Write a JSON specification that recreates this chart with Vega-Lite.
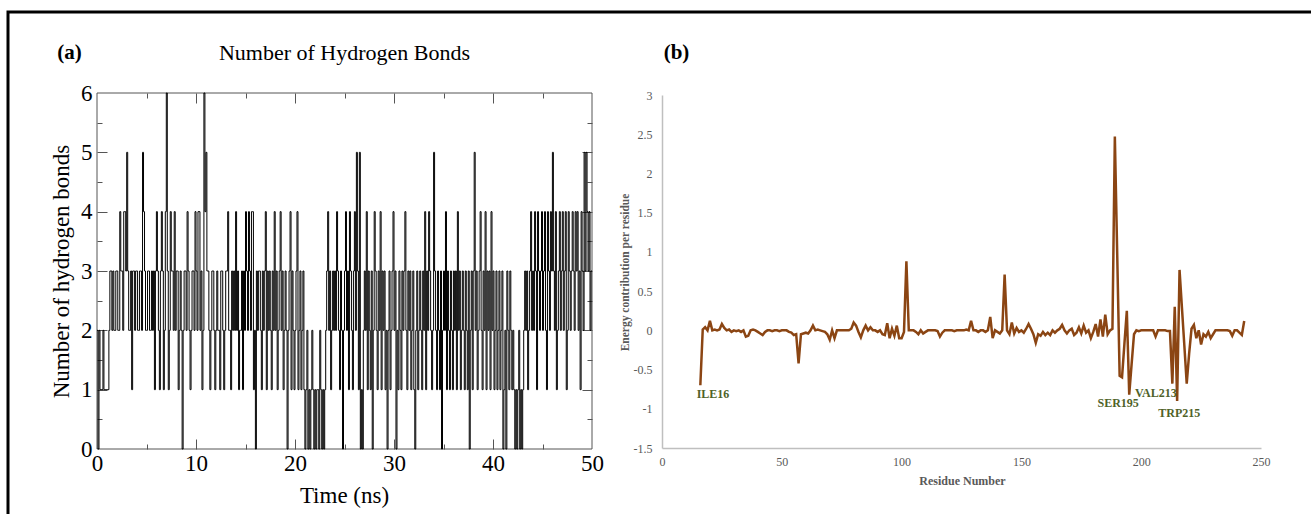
{
  "$schema": "https://vega.github.io/schema/vega-lite/v6.json",
  "width": 1311,
  "height": 514,
  "autosize": {"type": "none"},
  "padding": 0,
  "background": "white",
  "config": {"view": {"stroke": null}, "axis": {"grid": false, "labelOverlap": false, "labelFlush": false}},
  "datasets": {
    "hb": [
      {"t":0,"n":2},{"t":0.1,"n":0},{"t":0.2,"n":2},{"t":0.3,"n":1},{"t":0.4,"n":1},{"t":0.5,"n":1},{"t":0.6,"n":2},{"t":0.7,"n":1},{"t":0.8,"n":1},{"t":0.9,"n":1},
      {"t":1,"n":1},{"t":1.1,"n":1},{"t":1.2,"n":2},{"t":1.3,"n":3},{"t":1.4,"n":3},{"t":1.5,"n":2},{"t":1.6,"n":3},{"t":1.7,"n":2},{"t":1.8,"n":2},{"t":1.9,"n":3},
      {"t":2,"n":3},{"t":2.1,"n":2},{"t":2.2,"n":2},{"t":2.3,"n":4},{"t":2.4,"n":3},{"t":2.5,"n":3},{"t":2.6,"n":2},{"t":2.7,"n":4},{"t":2.8,"n":4},{"t":2.9,"n":3},
      {"t":3,"n":5},{"t":3.1,"n":3},{"t":3.2,"n":2},{"t":3.3,"n":2},{"t":3.4,"n":3},{"t":3.5,"n":1},{"t":3.6,"n":3},{"t":3.7,"n":3},{"t":3.8,"n":2},{"t":3.9,"n":3},
      {"t":4,"n":3},{"t":4.1,"n":2},{"t":4.2,"n":2},{"t":4.3,"n":3},{"t":4.4,"n":3},{"t":4.5,"n":2},{"t":4.6,"n":5},{"t":4.7,"n":4},{"t":4.8,"n":3},{"t":4.9,"n":2},
      {"t":5,"n":2},{"t":5.1,"n":3},{"t":5.2,"n":3},{"t":5.3,"n":2},{"t":5.4,"n":2},{"t":5.5,"n":3},{"t":5.6,"n":2},{"t":5.7,"n":3},{"t":5.8,"n":1},{"t":5.9,"n":3},
      {"t":6,"n":4},{"t":6.1,"n":3},{"t":6.2,"n":2},{"t":6.3,"n":1},{"t":6.4,"n":3},{"t":6.5,"n":4},{"t":6.6,"n":3},{"t":6.7,"n":1},{"t":6.8,"n":2},{"t":6.9,"n":4},
      {"t":7,"n":6},{"t":7.1,"n":3},{"t":7.2,"n":1},{"t":7.3,"n":2},{"t":7.4,"n":4},{"t":7.5,"n":3},{"t":7.6,"n":3},{"t":7.7,"n":2},{"t":7.8,"n":4},{"t":7.9,"n":2},
      {"t":8,"n":3},{"t":8.1,"n":3},{"t":8.2,"n":1},{"t":8.3,"n":2},{"t":8.4,"n":3},{"t":8.5,"n":2},{"t":8.6,"n":0},{"t":8.7,"n":2},{"t":8.8,"n":3},{"t":8.9,"n":3},
      {"t":9,"n":2},{"t":9.1,"n":4},{"t":9.2,"n":3},{"t":9.3,"n":2},{"t":9.4,"n":1},{"t":9.5,"n":2},{"t":9.6,"n":3},{"t":9.7,"n":3},{"t":9.8,"n":2},{"t":9.9,"n":4},
      {"t":10,"n":3},{"t":10.1,"n":2},{"t":10.2,"n":4},{"t":10.3,"n":4},{"t":10.4,"n":2},{"t":10.5,"n":3},{"t":10.6,"n":1},{"t":10.7,"n":2},{"t":10.8,"n":6},{"t":10.9,"n":4},
      {"t":11,"n":5},{"t":11.1,"n":3},{"t":11.2,"n":3},{"t":11.3,"n":2},{"t":11.4,"n":1},{"t":11.5,"n":2},{"t":11.6,"n":3},{"t":11.7,"n":3},{"t":11.8,"n":2},{"t":11.9,"n":1},
      {"t":12,"n":2},{"t":12.1,"n":3},{"t":12.2,"n":2},{"t":12.3,"n":2},{"t":12.4,"n":1},{"t":12.5,"n":3},{"t":12.6,"n":3},{"t":12.7,"n":2},{"t":12.8,"n":1},{"t":12.9,"n":2},
      {"t":13,"n":3},{"t":13.1,"n":3},{"t":13.2,"n":4},{"t":13.3,"n":2},{"t":13.4,"n":2},{"t":13.5,"n":1},{"t":13.6,"n":3},{"t":13.7,"n":2},{"t":13.8,"n":3},{"t":13.9,"n":2},
      {"t":14,"n":4},{"t":14.1,"n":2},{"t":14.2,"n":3},{"t":14.3,"n":1},{"t":14.4,"n":2},{"t":14.5,"n":2},{"t":14.6,"n":3},{"t":14.7,"n":1},{"t":14.8,"n":3},{"t":14.9,"n":2},
      {"t":15,"n":4},{"t":15.1,"n":3},{"t":15.2,"n":2},{"t":15.3,"n":4},{"t":15.4,"n":3},{"t":15.5,"n":2},{"t":15.6,"n":4},{"t":15.7,"n":4},{"t":15.8,"n":1},{"t":15.9,"n":2},
      {"t":16,"n":0},{"t":16.1,"n":3},{"t":16.2,"n":2},{"t":16.3,"n":3},{"t":16.4,"n":3},{"t":16.5,"n":2},{"t":16.6,"n":1},{"t":16.7,"n":3},{"t":16.8,"n":2},{"t":16.9,"n":3},
      {"t":17,"n":4},{"t":17.1,"n":1},{"t":17.2,"n":3},{"t":17.3,"n":2},{"t":17.4,"n":3},{"t":17.5,"n":2},{"t":17.6,"n":1},{"t":17.7,"n":3},{"t":17.8,"n":2},{"t":17.9,"n":4},
      {"t":18,"n":2},{"t":18.1,"n":3},{"t":18.2,"n":1},{"t":18.3,"n":2},{"t":18.4,"n":3},{"t":18.5,"n":4},{"t":18.6,"n":2},{"t":18.7,"n":3},{"t":18.8,"n":1},{"t":18.9,"n":2},
      {"t":19,"n":3},{"t":19.1,"n":2},{"t":19.2,"n":0},{"t":19.3,"n":2},{"t":19.4,"n":3},{"t":19.5,"n":4},{"t":19.6,"n":1},{"t":19.7,"n":3},{"t":19.8,"n":2},{"t":19.9,"n":1},
      {"t":20,"n":2},{"t":20.1,"n":3},{"t":20.2,"n":4},{"t":20.3,"n":1},{"t":20.4,"n":2},{"t":20.5,"n":3},{"t":20.6,"n":1},{"t":20.7,"n":2},{"t":20.8,"n":3},{"t":20.9,"n":1},
      {"t":21,"n":0},{"t":21.1,"n":1},{"t":21.2,"n":2},{"t":21.3,"n":0},{"t":21.4,"n":1},{"t":21.5,"n":0},{"t":21.6,"n":1},{"t":21.7,"n":2},{"t":21.8,"n":1},{"t":21.9,"n":0},
      {"t":22,"n":1},{"t":22.1,"n":0},{"t":22.2,"n":1},{"t":22.3,"n":1},{"t":22.4,"n":0},{"t":22.5,"n":2},{"t":22.6,"n":1},{"t":22.7,"n":0},{"t":22.8,"n":1},{"t":22.9,"n":0},
      {"t":23,"n":1},{"t":23.1,"n":2},{"t":23.2,"n":3},{"t":23.3,"n":4},{"t":23.4,"n":2},{"t":23.5,"n":3},{"t":23.6,"n":1},{"t":23.7,"n":2},{"t":23.8,"n":3},{"t":23.9,"n":2},
      {"t":24,"n":3},{"t":24.1,"n":2},{"t":24.2,"n":4},{"t":24.3,"n":3},{"t":24.4,"n":2},{"t":24.5,"n":1},{"t":24.6,"n":3},{"t":24.7,"n":2},{"t":24.8,"n":0},{"t":24.9,"n":2},
      {"t":25,"n":3},{"t":25.1,"n":4},{"t":25.2,"n":2},{"t":25.3,"n":3},{"t":25.4,"n":1},{"t":25.5,"n":4},{"t":25.6,"n":3},{"t":25.7,"n":2},{"t":25.8,"n":1},{"t":25.9,"n":3},
      {"t":26,"n":4},{"t":26.1,"n":2},{"t":26.2,"n":5},{"t":26.3,"n":3},{"t":26.4,"n":1},{"t":26.5,"n":5},{"t":26.6,"n":0},{"t":26.7,"n":1},{"t":26.8,"n":0},{"t":26.9,"n":2},
      {"t":27,"n":3},{"t":27.1,"n":2},{"t":27.2,"n":4},{"t":27.3,"n":1},{"t":27.4,"n":3},{"t":27.5,"n":2},{"t":27.6,"n":1},{"t":27.7,"n":3},{"t":27.8,"n":0},{"t":27.9,"n":2},
      {"t":28,"n":4},{"t":28.1,"n":3},{"t":28.2,"n":2},{"t":28.3,"n":1},{"t":28.4,"n":3},{"t":28.5,"n":2},{"t":28.6,"n":4},{"t":28.7,"n":1},{"t":28.8,"n":3},{"t":28.9,"n":2},
      {"t":29,"n":3},{"t":29.1,"n":1},{"t":29.2,"n":2},{"t":29.3,"n":0},{"t":29.4,"n":2},{"t":29.5,"n":3},{"t":29.6,"n":1},{"t":29.7,"n":2},{"t":29.8,"n":3},{"t":29.9,"n":4},
      {"t":30,"n":2},{"t":30.1,"n":3},{"t":30.2,"n":0},{"t":30.3,"n":2},{"t":30.4,"n":1},{"t":30.5,"n":3},{"t":30.6,"n":2},{"t":30.7,"n":1},{"t":30.8,"n":3},{"t":30.9,"n":2},
      {"t":31,"n":3},{"t":31.1,"n":4},{"t":31.2,"n":2},{"t":31.3,"n":1},{"t":31.4,"n":3},{"t":31.5,"n":2},{"t":31.6,"n":3},{"t":31.7,"n":1},{"t":31.8,"n":2},{"t":31.9,"n":3},
      {"t":32,"n":1},{"t":32.1,"n":0},{"t":32.2,"n":2},{"t":32.3,"n":3},{"t":32.4,"n":1},{"t":32.5,"n":2},{"t":32.6,"n":3},{"t":32.7,"n":2},{"t":32.8,"n":1},{"t":32.9,"n":3},
      {"t":33,"n":2},{"t":33.1,"n":4},{"t":33.2,"n":1},{"t":33.3,"n":3},{"t":33.4,"n":2},{"t":33.5,"n":4},{"t":33.6,"n":3},{"t":33.7,"n":2},{"t":33.8,"n":1},{"t":33.9,"n":2},
      {"t":34,"n":5},{"t":34.1,"n":3},{"t":34.2,"n":2},{"t":34.3,"n":1},{"t":34.4,"n":3},{"t":34.5,"n":2},{"t":34.6,"n":1},{"t":34.7,"n":3},{"t":34.8,"n":0},{"t":34.9,"n":2},
      {"t":35,"n":3},{"t":35.1,"n":2},{"t":35.2,"n":4},{"t":35.3,"n":1},{"t":35.4,"n":3},{"t":35.5,"n":2},{"t":35.6,"n":1},{"t":35.7,"n":3},{"t":35.8,"n":2},{"t":35.9,"n":1},
      {"t":36,"n":3},{"t":36.1,"n":2},{"t":36.2,"n":3},{"t":36.3,"n":1},{"t":36.4,"n":4},{"t":36.5,"n":2},{"t":36.6,"n":3},{"t":36.7,"n":1},{"t":36.8,"n":2},{"t":36.9,"n":3},
      {"t":37,"n":2},{"t":37.1,"n":1},{"t":37.2,"n":3},{"t":37.3,"n":2},{"t":37.4,"n":1},{"t":37.5,"n":3},{"t":37.6,"n":0},{"t":37.7,"n":2},{"t":37.8,"n":3},{"t":37.9,"n":1},
      {"t":38,"n":3},{"t":38.1,"n":5},{"t":38.2,"n":2},{"t":38.3,"n":3},{"t":38.4,"n":1},{"t":38.5,"n":2},{"t":38.6,"n":3},{"t":38.7,"n":4},{"t":38.8,"n":2},{"t":38.9,"n":1},
      {"t":39,"n":3},{"t":39.1,"n":2},{"t":39.2,"n":4},{"t":39.3,"n":1},{"t":39.4,"n":3},{"t":39.5,"n":2},{"t":39.6,"n":3},{"t":39.7,"n":1},{"t":39.8,"n":4},{"t":39.9,"n":2},
      {"t":40,"n":3},{"t":40.1,"n":1},{"t":40.2,"n":2},{"t":40.3,"n":3},{"t":40.4,"n":1},{"t":40.5,"n":2},{"t":40.6,"n":3},{"t":40.7,"n":1},{"t":40.8,"n":2},{"t":40.9,"n":3},
      {"t":41,"n":0},{"t":41.1,"n":1},{"t":41.2,"n":2},{"t":41.3,"n":0},{"t":41.4,"n":3},{"t":41.5,"n":2},{"t":41.6,"n":1},{"t":41.7,"n":3},{"t":41.8,"n":2},{"t":41.9,"n":1},
      {"t":42,"n":2},{"t":42.1,"n":1},{"t":42.2,"n":0},{"t":42.3,"n":1},{"t":42.4,"n":0},{"t":42.5,"n":1},{"t":42.6,"n":2},{"t":42.7,"n":0},{"t":42.8,"n":1},{"t":42.9,"n":0},
      {"t":43,"n":1},{"t":43.1,"n":2},{"t":43.2,"n":3},{"t":43.3,"n":2},{"t":43.4,"n":3},{"t":43.5,"n":1},{"t":43.6,"n":2},{"t":43.7,"n":3},{"t":43.8,"n":4},{"t":43.9,"n":2},
      {"t":44,"n":3},{"t":44.1,"n":2},{"t":44.2,"n":4},{"t":44.3,"n":3},{"t":44.4,"n":1},{"t":44.5,"n":4},{"t":44.6,"n":3},{"t":44.7,"n":2},{"t":44.8,"n":3},{"t":44.9,"n":4},
      {"t":45,"n":2},{"t":45.1,"n":3},{"t":45.2,"n":4},{"t":45.3,"n":2},{"t":45.4,"n":1},{"t":45.5,"n":4},{"t":45.6,"n":3},{"t":45.7,"n":2},{"t":45.8,"n":4},{"t":45.9,"n":3},
      {"t":46,"n":5},{"t":46.1,"n":3},{"t":46.2,"n":2},{"t":46.3,"n":4},{"t":46.4,"n":1},{"t":46.5,"n":2},{"t":46.6,"n":3},{"t":46.7,"n":4},{"t":46.8,"n":2},{"t":46.9,"n":3},
      {"t":47,"n":4},{"t":47.1,"n":2},{"t":47.2,"n":3},{"t":47.3,"n":4},{"t":47.4,"n":1},{"t":47.5,"n":2},{"t":47.6,"n":4},{"t":47.7,"n":3},{"t":47.8,"n":2},{"t":47.9,"n":3},
      {"t":48,"n":4},{"t":48.1,"n":3},{"t":48.2,"n":2},{"t":48.3,"n":4},{"t":48.4,"n":3},{"t":48.5,"n":4},{"t":48.6,"n":2},{"t":48.7,"n":3},{"t":48.8,"n":1},{"t":48.9,"n":4},
      {"t":49,"n":3},{"t":49.1,"n":2},{"t":49.2,"n":5},{"t":49.3,"n":3},{"t":49.4,"n":5},{"t":49.5,"n":4},{"t":49.6,"n":3},{"t":49.7,"n":4},{"t":49.8,"n":2},{"t":49.9,"n":3},
      {"t":50,"n":3}
    ],
    "energy": [
      {"residue":16,"energy":-0.7},{"residue":17,"energy":0.01},{"residue":18,"energy":0.04},{"residue":19,"energy":0},{"residue":20,"energy":0.12},{"residue":21,"energy":0},{"residue":22,"energy":0.01},{"residue":23,"energy":0},{"residue":24,"energy":0.01},{"residue":25,"energy":0.08},
      {"residue":26,"energy":0.03},{"residue":27,"energy":0},{"residue":28,"energy":0.01},{"residue":29,"energy":-0.02},{"residue":30,"energy":0},{"residue":31,"energy":-0.01},{"residue":32,"energy":0},{"residue":33,"energy":-0.02},{"residue":34,"energy":0},{"residue":35,"energy":-0.08},
      {"residue":36,"energy":-0.07},{"residue":37,"energy":0},{"residue":38,"energy":0.01},{"residue":39,"energy":0},{"residue":40,"energy":-0.02},{"residue":41,"energy":-0.04},{"residue":42,"energy":-0.06},{"residue":43,"energy":-0.02},{"residue":44,"energy":0},{"residue":45,"energy":0},
      {"residue":46,"energy":-0.01},{"residue":47,"energy":0},{"residue":48,"energy":0},{"residue":49,"energy":-0.01},{"residue":50,"energy":0},{"residue":51,"energy":0},{"residue":52,"energy":0},{"residue":53,"energy":-0.02},{"residue":54,"energy":-0.03},{"residue":55,"energy":-0.06},
      {"residue":56,"energy":-0.05},{"residue":57,"energy":-0.42},{"residue":58,"energy":-0.05},{"residue":59,"energy":-0.04},{"residue":60,"energy":-0.03},{"residue":61,"energy":-0.04},{"residue":62,"energy":0},{"residue":63,"energy":0.06},{"residue":64,"energy":0},{"residue":65,"energy":0.01},
      {"residue":66,"energy":0},{"residue":67,"energy":-0.01},{"residue":68,"energy":-0.02},{"residue":69,"energy":-0.05},{"residue":70,"energy":-0.12},{"residue":71,"energy":0},{"residue":72,"energy":-0.1},{"residue":73,"energy":0},{"residue":74,"energy":0},{"residue":75,"energy":0},
      {"residue":76,"energy":0},{"residue":77,"energy":0},{"residue":78,"energy":0},{"residue":79,"energy":0.02},{"residue":80,"energy":0.1},{"residue":81,"energy":0.06},{"residue":82,"energy":-0.02},{"residue":83,"energy":-0.09},{"residue":84,"energy":0},{"residue":85,"energy":0.06},
      {"residue":86,"energy":0},{"residue":87,"energy":0.04},{"residue":88,"energy":0},{"residue":89,"energy":0},{"residue":90,"energy":-0.02},{"residue":91,"energy":0},{"residue":92,"energy":-0.05},{"residue":93,"energy":-0.06},{"residue":94,"energy":0.09},{"residue":95,"energy":-0.1},
      {"residue":96,"energy":0.02},{"residue":97,"energy":-0.07},{"residue":98,"energy":0.06},{"residue":99,"energy":-0.1},{"residue":100,"energy":-0.1},{"residue":101,"energy":-0.02},{"residue":102,"energy":0.88},{"residue":103,"energy":0},{"residue":104,"energy":0},{"residue":105,"energy":0},
      {"residue":106,"energy":-0.02},{"residue":107,"energy":-0.05},{"residue":108,"energy":0},{"residue":109,"energy":-0.04},{"residue":110,"energy":-0.02},{"residue":111,"energy":0},{"residue":112,"energy":0},{"residue":113,"energy":0},{"residue":114,"energy":0},{"residue":115,"energy":-0.01},
      {"residue":116,"energy":-0.08},{"residue":117,"energy":-0.03},{"residue":118,"energy":0},{"residue":119,"energy":0},{"residue":120,"energy":0},{"residue":121,"energy":0},{"residue":122,"energy":-0.01},{"residue":123,"energy":0},{"residue":124,"energy":0},{"residue":125,"energy":0},
      {"residue":126,"energy":0},{"residue":127,"energy":0.01},{"residue":128,"energy":0},{"residue":129,"energy":0.12},{"residue":130,"energy":0},{"residue":131,"energy":0},{"residue":132,"energy":-0.02},{"residue":133,"energy":0},{"residue":134,"energy":0},{"residue":135,"energy":-0.02},
      {"residue":136,"energy":0},{"residue":137,"energy":0.17},{"residue":138,"energy":-0.1},{"residue":139,"energy":0},{"residue":140,"energy":-0.02},{"residue":141,"energy":-0.04},{"residue":142,"energy":0},{"residue":143,"energy":0.71},{"residue":144,"energy":0},{"residue":145,"energy":-0.05},
      {"residue":146,"energy":0.1},{"residue":147,"energy":-0.04},{"residue":148,"energy":0.03},{"residue":149,"energy":-0.02},{"residue":150,"energy":0},{"residue":151,"energy":-0.03},{"residue":152,"energy":0.02},{"residue":153,"energy":0.08},{"residue":154,"energy":0.02},{"residue":155,"energy":-0.05},
      {"residue":156,"energy":-0.16},{"residue":157,"energy":-0.05},{"residue":158,"energy":-0.07},{"residue":159,"energy":-0.02},{"residue":160,"energy":-0.06},{"residue":161,"energy":-0.03},{"residue":162,"energy":-0.06},{"residue":163,"energy":0},{"residue":164,"energy":-0.03},{"residue":165,"energy":0},
      {"residue":166,"energy":0.02},{"residue":167,"energy":0.07},{"residue":168,"energy":0},{"residue":169,"energy":-0.04},{"residue":170,"energy":0},{"residue":171,"energy":0.02},{"residue":172,"energy":-0.06},{"residue":173,"energy":-0.03},{"residue":174,"energy":0.04},{"residue":175,"energy":-0.04},
      {"residue":176,"energy":0.06},{"residue":177,"energy":-0.03},{"residue":178,"energy":0},{"residue":179,"energy":-0.1},{"residue":180,"energy":-0.02},{"residue":181,"energy":0.08},{"residue":182,"energy":-0.08},{"residue":183,"energy":0.14},{"residue":184,"energy":-0.08},{"residue":185,"energy":0.2},
      {"residue":186,"energy":-0.05},{"residue":187,"energy":0},{"residue":188,"energy":0.02},{"residue":189,"energy":2.47},{"residue":190,"energy":0.95},{"residue":191,"energy":-0.58},{"residue":192,"energy":-0.6},{"residue":193,"energy":-0.17},{"residue":194,"energy":0.25},{"residue":195,"energy":-0.82},
      {"residue":196,"energy":-0.43},{"residue":197,"energy":-0.05},{"residue":198,"energy":0},{"residue":199,"energy":-0.01},{"residue":200,"energy":0},{"residue":201,"energy":0},{"residue":202,"energy":0},{"residue":203,"energy":0},{"residue":204,"energy":0},{"residue":205,"energy":0},
      {"residue":206,"energy":-0.08},{"residue":207,"energy":0},{"residue":208,"energy":0},{"residue":209,"energy":0},{"residue":210,"energy":0},{"residue":211,"energy":-0.01},{"residue":212,"energy":-0.01},{"residue":213,"energy":-0.68},{"residue":214,"energy":0.3},{"residue":215,"energy":-0.9},
      {"residue":216,"energy":0.77},{"residue":217,"energy":0.29},{"residue":218,"energy":-0.19},{"residue":219,"energy":-0.68},{"residue":220,"energy":-0.3},{"residue":221,"energy":0.02},{"residue":222,"energy":0.07},{"residue":223,"energy":-0.1},{"residue":224,"energy":0},{"residue":225,"energy":-0.18},
      {"residue":226,"energy":-0.05},{"residue":227,"energy":-0.08},{"residue":228,"energy":-0.02},{"residue":229,"energy":-0.1},{"residue":230,"energy":-0.05},{"residue":231,"energy":0},{"residue":232,"energy":0},{"residue":233,"energy":0},{"residue":234,"energy":0},{"residue":235,"energy":0},
      {"residue":236,"energy":0},{"residue":237,"energy":-0.01},{"residue":238,"energy":-0.07},{"residue":239,"energy":0},{"residue":240,"energy":0},{"residue":241,"energy":-0.03},{"residue":242,"energy":-0.06},{"residue":243,"energy":0.12}
    ],
    "labels": [
      {"label":"ILE16","residue":21.3,"energy":-0.81},
      {"label":"SER195","residue":190.4,"energy":-0.93},
      {"label":"VAL213","residue":206.1,"energy":-0.8},
      {"label":"TRP215","residue":215.9,"energy":-1.05}
    ]
  },
  "layer": [
    {
      "data": {"values": [{}]},
      "mark": {"type": "rect", "fillOpacity": 0, "stroke": "black", "strokeWidth": 3},
      "encoding": {
        "x": {"datum": 0, "type": "quantitative", "scale": {"domain": [0, 1], "range": [8, 1330], "nice": false, "zero": false}, "axis": null},
        "x2": {"datum": 1},
        "y": {"datum": 0, "type": "quantitative", "scale": {"domain": [0, 1], "range": [12, 540], "nice": false, "zero": false}, "axis": null},
        "y2": {"datum": 1}
      }
    },
    {
      "data": {"values": [{}]},
      "mark": {"type": "rect", "fillOpacity": 0, "stroke": "#555555", "strokeWidth": 1},
      "encoding": {
        "x": {"datum": 0, "type": "quantitative", "scale": {"domain": [0, 50], "range": [97, 592], "nice": false, "zero": false},
          "axis": {"orient": "bottom", "offset": -75, "values": [10, 20, 30, 40], "tickSize": 10, "tickColor": "#555555", "tickWidth": 1, "domain": false, "labels": false, "title": null}},
        "x2": {"datum": 50},
        "y": {"datum": 0, "type": "quantitative", "scale": {"domain": [0, 6], "range": [449, 93], "nice": false, "zero": false},
          "axis": {"orient": "left", "offset": -107, "values": [1, 2, 3, 4, 5], "tickSize": 10, "tickColor": "#555555", "tickWidth": 1, "domain": false, "labels": false, "title": null}},
        "y2": {"datum": 6}
      }
    },
    {
      "data": {"name": "hb"},
      "mark": {"type": "line", "interpolate": "step-after", "color": "black", "strokeWidth": 1},
      "encoding": {
        "x": {"field": "t", "type": "quantitative", "scale": {"domain": [0, 50], "range": [97, 592], "nice": false, "zero": false},
          "axis": {"orient": "bottom", "offset": -65, "domain": false, "ticks": false, "values": [0, 10, 20, 30, 40, 50],
            "labelFont": "Liberation Serif", "labelFontSize": 23, "labelColor": "black", "labelPadding": 3,
            "title": "Time (ns)", "titleFont": "Liberation Serif", "titleFontSize": 23, "titleFontWeight": "normal", "titleColor": "black",
            "titleX": 344, "titleY": 46, "titleBaseline": "middle", "titleAlign": "center"}},
        "y": {"field": "n", "type": "quantitative", "scale": {"domain": [0, 6], "range": [449, 93], "nice": false, "zero": false},
          "axis": {"orient": "left", "offset": -97, "domain": false, "ticks": false, "values": [0, 1, 2, 3, 4, 5, 6],
            "labelFont": "Liberation Serif", "labelFontSize": 23, "labelColor": "black", "labelPadding": 5,
            "title": "Number of hydrogen bonds", "titleFont": "Liberation Serif", "titleFontSize": 23, "titleFontWeight": "normal", "titleColor": "black",
            "titleX": -36, "titleY": 271, "titleAngle": 270, "titleBaseline": "middle", "titleAlign": "center"}}
      }
    },
    {
      "data": {"values": [{}]},
      "mark": {"type": "rect", "opacity": 0},
      "encoding": {
        "x": {"datum": 0, "type": "quantitative", "scale": {"domain": [0, 50], "range": [97, 592], "nice": false, "zero": false},
          "axis": {"orient": "bottom", "offset": -70, "values": [5, 15, 25, 35, 45], "tickSize": 5, "tickColor": "#555555", "tickWidth": 1, "domain": false, "labels": false, "title": null}},
        "x2": {"datum": 50},
        "y": {"datum": 0, "type": "quantitative", "scale": {"domain": [0, 6], "range": [449, 93], "nice": false, "zero": false},
          "axis": {"orient": "left", "offset": -102, "values": [0.5, 1.5, 2.5, 3.5, 4.5, 5.5], "tickSize": 5, "tickColor": "#555555", "tickWidth": 1, "domain": false, "labels": false, "title": null}},
        "y2": {"datum": 6}
      }
    },
    {
      "data": {"values": [{}]},
      "mark": {"type": "rect", "opacity": 0},
      "encoding": {
        "x": {"datum": 0, "type": "quantitative", "scale": {"domain": [0, 50], "range": [97, 592], "nice": false, "zero": false},
          "axis": {"orient": "top", "offset": -103, "values": [10, 20, 30, 40], "tickSize": 10, "tickColor": "#555555", "tickWidth": 1, "domain": false, "labels": false,
            "title": "Number of Hydrogen Bonds", "titleFont": "Liberation Serif", "titleFontSize": 22, "titleFontWeight": "normal", "titleColor": "black",
            "titleX": 344, "titleY": -51, "titleBaseline": "middle", "titleAlign": "center"}},
        "x2": {"datum": 50},
        "y": {"datum": 0, "type": "quantitative", "scale": {"domain": [0, 6], "range": [449, 93], "nice": false, "zero": false},
          "axis": {"orient": "right", "offset": -729, "values": [1, 2, 3, 4, 5], "tickSize": 10, "tickColor": "#555555", "tickWidth": 1, "domain": false, "labels": false, "title": null}},
        "y2": {"datum": 6}
      }
    },
    {
      "data": {"values": [{}]},
      "mark": {"type": "rect", "opacity": 0},
      "encoding": {
        "x": {"datum": 0, "type": "quantitative", "scale": {"domain": [0, 50], "range": [97, 592], "nice": false, "zero": false},
          "axis": {"orient": "top", "offset": -98, "values": [5, 15, 25, 35, 45], "tickSize": 5, "tickColor": "#555555", "tickWidth": 1, "domain": false, "labels": false,
            "title": "(a)", "titleFont": "Liberation Serif", "titleFontSize": 21, "titleFontWeight": "bold", "titleColor": "black",
            "titleX": 69, "titleY": -46, "titleBaseline": "middle", "titleAlign": "center"}},
        "x2": {"datum": 50},
        "y": {"datum": 0, "type": "quantitative", "scale": {"domain": [0, 6], "range": [449, 93], "nice": false, "zero": false},
          "axis": {"orient": "right", "offset": -724, "values": [0.5, 1.5, 2.5, 3.5, 4.5, 5.5], "tickSize": 5, "tickColor": "#555555", "tickWidth": 1, "domain": false, "labels": false, "title": null}},
        "y2": {"datum": 6}
      }
    },
    {
      "data": {"name": "energy"},
      "mark": {"type": "line", "color": "#8B4513", "strokeWidth": 2.5},
      "encoding": {
        "x": {"field": "residue", "type": "quantitative", "scale": {"domain": [0, 250], "range": [662, 1261], "nice": false, "zero": false},
          "axis": {"orient": "bottom", "offset": -66, "domain": true, "domainColor": "#bfbfbf", "domainWidth": 1.5, "ticks": false, "values": [0, 50, 100, 150, 200, 250],
            "labelFont": "Liberation Serif", "labelFontSize": 12, "labelColor": "#595959", "labelPadding": 8,
            "title": "Residue Number", "titleFont": "Liberation Serif", "titleFontSize": 12, "titleFontWeight": "bold", "titleColor": "#595959",
            "titleX": 962, "titleY": 32, "titleBaseline": "middle", "titleAlign": "center"}},
        "y": {"field": "energy", "type": "quantitative", "scale": {"domain": [-1.5, 3], "range": [448, 95], "nice": false, "zero": false},
          "axis": {"orient": "left", "offset": -662, "domain": true, "domainColor": "#bfbfbf", "domainWidth": 1.5, "ticks": false, "values": [-1.5, -1, -0.5, 0, 0.5, 1, 1.5, 2, 2.5, 3],
            "labelExpr": "'' + datum.value",
            "labelFont": "Liberation Serif", "labelFontSize": 12, "labelColor": "#595959", "labelPadding": 10,
            "title": "Energy contribution per residue", "titleFont": "Liberation Serif", "titleFontSize": 11.5, "titleFontWeight": "bold", "titleColor": "#595959",
            "titleX": -37, "titleY": 272, "titleAngle": 270, "titleBaseline": "middle", "titleAlign": "center"}}
      }
    },
    {
      "data": {"name": "labels"},
      "mark": {"type": "text", "font": "Liberation Serif", "fontWeight": "bold", "fontSize": 12, "color": "#4f6228", "align": "center", "baseline": "middle"},
      "encoding": {
        "x": {"field": "residue", "type": "quantitative", "scale": {"domain": [0, 250], "range": [662, 1261], "nice": false, "zero": false},
          "axis": {"orient": "top", "offset": 0, "domain": false, "ticks": false, "labels": false,
            "title": "(b)", "titleFont": "Liberation Serif", "titleFontSize": 21, "titleFontWeight": "bold", "titleColor": "black",
            "titleX": 676, "titleY": 52, "titleBaseline": "middle", "titleAlign": "center"}},
        "y": {"field": "energy", "type": "quantitative", "scale": {"domain": [-1.5, 3], "range": [448, 95], "nice": false, "zero": false}, "axis": null},
        "text": {"field": "label", "type": "nominal"}
      }
    }
  ],
  "resolve": {"scale": {"x": "independent", "y": "independent"}, "axis": {"x": "independent", "y": "independent"}}
}
